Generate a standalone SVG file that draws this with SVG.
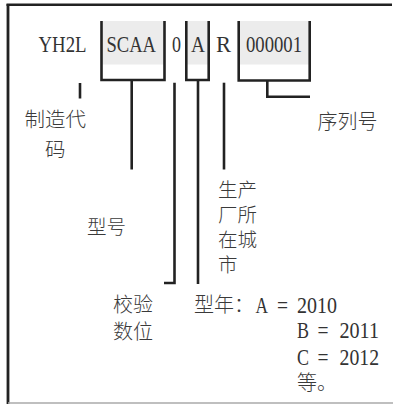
<svg xmlns="http://www.w3.org/2000/svg" width="393" height="404" viewBox="0 0 393 404">
<style>
.lat{font-family:"Liberation Serif","DejaVu Serif",serif;font-size:22.5px;fill:#333}
.cjk{font-family:"Noto Sans CJK SC","Noto Sans",sans-serif;font-size:20px;fill:#3a3a3a;font-weight:300}
.ln{stroke:#222;stroke-width:2.6;fill:none}
.fill{fill:#ececec}
</style>
<rect width="393" height="404" fill="#fff"/>
<g id="frame">
<line x1="6.5" y1="4.8" x2="392" y2="4.8" stroke="#222" stroke-width="2.6"/>
<line x1="8" y1="4" x2="8" y2="404" stroke="#222" stroke-width="2.8"/>
<line x1="8" y1="403" x2="393" y2="403" stroke="#aaa" stroke-width="1.6"/>
</g>
<g id="seg-yh2l"><text class="lat" x="38.5" y="52" textLength="48" lengthAdjust="spacingAndGlyphs">YH2L</text></g>
<g id="seg-scaa">
<rect class="fill" x="101.5" y="21" width="63" height="43.5"/>
<path class="ln" d="M101.5 21V80H164.5V21"/>
<text class="lat" x="106.5" y="52" textLength="49.5" lengthAdjust="spacingAndGlyphs">SCAA</text>
</g>
<g id="seg-0"><text class="lat" x="172" y="52" textLength="9" lengthAdjust="spacingAndGlyphs">0</text></g>
<g id="seg-a">
<rect class="fill" x="186.3" y="21" width="22.4" height="43.5"/>
<path class="ln" d="M186.3 21V80H208.7V21"/>
<text class="lat" x="191" y="52" textLength="14" lengthAdjust="spacingAndGlyphs">A</text>
</g>
<g id="seg-r"><text class="lat" x="216" y="52" textLength="15" lengthAdjust="spacingAndGlyphs">R</text></g>
<g id="seg-serial">
<rect class="fill" x="238.7" y="21" width="71" height="43.5"/>
<path class="ln" d="M238.7 21V80.5H309.7V21"/>
<text class="lat" x="246" y="52" textLength="56" lengthAdjust="spacingAndGlyphs">000001</text>
</g>
<g id="connectors">
<line class="ln" x1="80" y1="83" x2="80" y2="98.5"/>
<line class="ln" x1="131.7" y1="80" x2="131.7" y2="169.5"/>
<path class="ln" d="M174.5 82.7V283H164"/>
<line class="ln" x1="198" y1="80" x2="198" y2="284"/>
<line class="ln" x1="224" y1="82.7" x2="224" y2="169.5"/>
<path class="ln" d="M267.3 80.5V96.7H310"/>
</g>
<g id="label-maker">
<text class="cjk" style="font-size:20.5px"><tspan x="24.5" y="127">制造代</tspan><tspan x="45" y="156.5">码</tspan></text>
</g>
<g id="label-serial"><text class="cjk" x="317.5" y="128.6">序列号</text></g>
<g id="label-model"><text class="cjk" x="87" y="233.6" style="font-size:19.5px">型号</text></g>
<g id="label-city">
<text class="cjk" style="font-size:19.5px"><tspan x="218" y="196.6">生产</tspan><tspan x="218" y="221.6">厂所</tspan><tspan x="218" y="246.6">在城</tspan><tspan x="218" y="271.5">市</tspan></text>
</g>
<g id="label-check">
<text class="cjk"><tspan x="113" y="312">校验</tspan><tspan x="113" y="338.5">数位</tspan></text>
</g>
<g id="label-year">
<text class="lat"><tspan class="cjk" x="194" y="312">型年：</tspan><tspan x="255.5" y="313" textLength="12.5" lengthAdjust="spacingAndGlyphs">A</tspan><tspan x="277" y="313" textLength="11" lengthAdjust="spacingAndGlyphs">=</tspan><tspan x="297" y="313" textLength="40" lengthAdjust="spacingAndGlyphs">2010</tspan><tspan x="297" y="338.3" textLength="12" lengthAdjust="spacingAndGlyphs">B</tspan><tspan x="317.5" y="338.3" textLength="11" lengthAdjust="spacingAndGlyphs">=</tspan><tspan x="339.5" y="338.3" textLength="39.5" lengthAdjust="spacingAndGlyphs">2011</tspan><tspan x="297" y="365" textLength="12" lengthAdjust="spacingAndGlyphs">C</tspan><tspan x="317.5" y="365" textLength="11" lengthAdjust="spacingAndGlyphs">=</tspan><tspan x="339.5" y="365" textLength="39.5" lengthAdjust="spacingAndGlyphs">2012</tspan><tspan class="cjk" x="297" y="390">等。</tspan></text>
</g>
</svg>
